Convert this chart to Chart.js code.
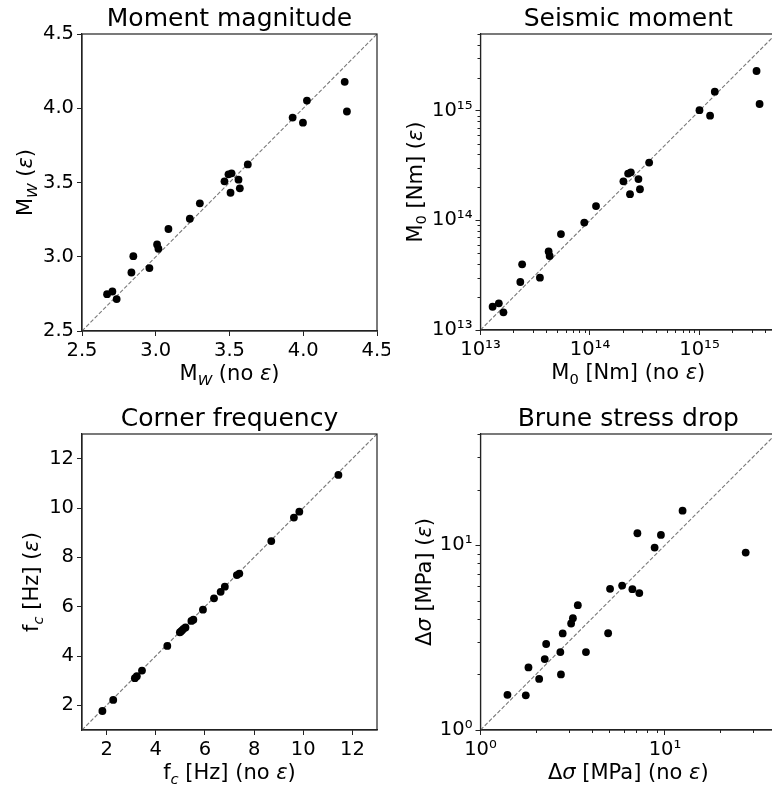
<!DOCTYPE html>
<html>
<head>
<meta charset="utf-8">
<script src="https://cdn.jsdelivr.net/npm/chart.js@4.4.0/dist/chart.umd.min.js"></script>
<style>
  html, body { margin: 0; padding: 0; background: #fff; overflow: hidden; width: 772px; height: 794px; }
  .panel { position: absolute; }
</style>
</head>
<body>
<div class="panel" style="left:0;top:0"><canvas id="c1" width="390" height="396"></canvas></div>
<div class="panel" style="left:390px;top:0"><canvas id="c2" width="390" height="396"></canvas></div>
<div class="panel" style="left:0;top:396px"><canvas id="c3" width="390" height="398"></canvas></div>
<div class="panel" style="left:390px;top:396px"><canvas id="c4" width="390" height="398"></canvas></div>
<script>
// Moment magnitude
const mwNoEps = [2.670, 2.706, 2.735, 2.835, 2.848, 2.957, 3.009, 3.018, 3.086, 3.231, 3.299, 3.466,
  3.493, 3.514, 3.561, 3.507, 3.570, 3.624, 3.928, 3.998, 4.025, 4.281, 4.296]
const mwEps = [2.748, 2.766, 2.715, 2.894, 3.004, 2.924, 3.083, 3.054, 3.187, 3.256, 3.360, 3.508,
  3.555, 3.562, 3.519, 3.431, 3.461, 3.622, 3.937, 3.903, 4.052, 4.178, 3.978]
const mwLimits = [2.5, 4.5]
const mwTicks = [2.5, 3.0, 3.5, 4.0, 4.5]

// Seismic moment [Nm]
const m0NoEps = [1.29e13, 1.47e13, 1.62e13, 2.31e13, 2.40e13, 3.49e13, 4.19e13, 4.28e13, 5.43e13, 8.87e13,
  1.135e14, 2.02e14, 2.23e14, 2.36e14, 2.77e14, 2.32e14, 2.86e14, 3.47e14, 1.00e15, 1.25e15, 1.38e15, 3.32e15, 3.54e15]
const m0Eps = [1.63e13, 1.75e13, 1.45e13, 2.74e13, 3.97e13, 3.00e13, 5.21e13, 4.73e13, 7.50e13, 9.53e13,
  1.35e14, 2.27e14, 2.67e14, 2.74e14, 2.38e14, 1.73e14, 1.92e14, 3.36e14, 1.01e15, 9.0e14, 1.49e15, 2.30e15, 1.15e15]
const m0Limits = [1e13, 5e15]
const m0Ticks = [1e13, 1e14, 1e15]

// Corner frequency [Hz]
const fcNoEps = [1.83, 2.27, 3.15, 3.23, 3.44, 4.47, 4.98, 5.02, 5.07, 5.13, 5.21, 5.45, 5.53, 5.92,
  6.37, 6.64, 6.81, 7.30, 7.40, 8.70, 9.62, 9.84, 11.43]
const fcEps = [1.77, 2.22, 3.10, 3.18, 3.41, 4.41, 4.96, 4.99, 5.04, 5.10, 5.16, 5.42, 5.47, 5.88,
  6.34, 6.60, 6.81, 7.28, 7.34, 8.66, 9.61, 9.85, 11.34]
const fcLimits = [1, 13]
const fcTicks = [2, 4, 6, 8, 10, 12]

// Brune stress drop [MPa]
const stressNoEps = [1.40, 1.76, 1.82, 2.08, 2.23, 2.27, 2.71, 2.73, 2.79, 3.10, 3.17, 3.37, 3.73, 4.92,
  5.04, 5.86, 6.66, 7.26, 7.09, 8.79, 9.51, 12.46, 27.4]
const stressEps = [1.55, 1.54, 2.18, 1.89, 2.42, 2.92, 2.64, 2.00, 3.33, 3.77, 4.03, 4.74, 2.64, 3.34,
  5.81, 6.05, 5.78, 5.51, 11.61, 9.71, 11.37, 15.39, 9.13]
const stressLimits = [1, 40]
const stressTicks = [1, 10]

Chart.defaults.font.family = '"DejaVu Sans"'
Chart.defaults.color = '#000'

const FONT = '"DejaVu Sans"'
const supDigits = { '0': '\u2070', '1': '\u00b9', '2': '\u00b2', '3': '\u00b3', '4': '\u2074',
  '5': '\u2075', '6': '\u2076', '7': '\u2077', '8': '\u2078', '9': '\u2079', '-': '\u207b' }

function powerLabel(v) {
  const e = Math.round(Math.log10(v))
  return '10' + String(e).split('').map((c) => supDigits[c]).join('')
}

// draw a label made of plain / italic / subscript pieces, centred on the origin
function drawRich(ctx, segs, size) {
  const parts = segs.map((s) => {
    const sz = s.sub ? size * 0.7 : size
    const font = (s.it ? 'italic ' : '') + sz + 'px ' + FONT
    ctx.font = font
    return { t: s.t, font, w: ctx.measureText(s.t).width, dy: s.sub ? size * 0.22 : 0 }
  })
  const total = parts.reduce((a, p) => a + p.w, 0)
  let x = -total / 2
  parts.forEach((p) => {
    ctx.font = p.font
    ctx.fillText(p.t, x, p.dy)
    x += p.w
  })
}

const framePlugin = {
  id: 'frame',
  afterDraw(chart) {
    const { ctx, chartArea: a } = chart
    ctx.save()
    ctx.strokeStyle = '#222'
    ctx.lineWidth = 1.2
    ctx.strokeRect(a.left, a.top, a.right - a.left, a.bottom - a.top)
    ctx.restore()
  },
}

// short unlabelled ticks at 2..9 x 10^n on log axes
const minorTicksPlugin = {
  id: 'minorTicks',
  afterDraw(chart) {
    const { ctx, chartArea: a } = chart
    ctx.save()
    ctx.strokeStyle = '#222'
    ctx.lineWidth = 1
    for (const id of ['x', 'y']) {
      const s = chart.scales[id]
      if (s.type !== 'logarithmic') continue
      for (let e = Math.floor(Math.log10(s.min)); e <= Math.ceil(Math.log10(s.max)); e++) {
        for (let m = 2; m <= 9; m++) {
          const v = m * Math.pow(10, e)
          if (v < s.min || v > s.max) continue
          const p = Math.round(s.getPixelForValue(v)) + 0.5
          ctx.beginPath()
          if (id === 'x') {
            ctx.moveTo(p, a.bottom)
            ctx.lineTo(p, a.bottom + 3)
          } else {
            ctx.moveTo(a.left, p)
            ctx.lineTo(a.left - 3, p)
          }
          ctx.stroke()
        }
      }
    }
    ctx.restore()
  },
}

const axisTextPlugin = {
  id: 'axisText',
  afterDraw(chart, args, opts) {
    const { ctx, chartArea: a } = chart
    const cx = (a.left + a.right) / 2
    ctx.save()
    ctx.fillStyle = '#000'
    ctx.textBaseline = 'alphabetic'
    ctx.textAlign = 'left'

    ctx.save()
    ctx.translate(cx, a.top - 8)
    drawRich(ctx, [{ t: opts.title }], 25)
    ctx.restore()

    ctx.save()
    ctx.translate(cx, a.bottom + 49)
    drawRich(ctx, opts.xLabel, 21)
    ctx.restore()

    ctx.save()
    ctx.translate(a.left - opts.yGap, (a.top + a.bottom) / 2)
    ctx.rotate(-Math.PI / 2)
    drawRich(ctx, opts.yLabel, 21)
    ctx.restore()

    ctx.restore()
  },
}

function axis(kind, limits, ticks, fmt, size) {
  const isX = kind === 'x'
  return {
    type: fmt === 'log' ? 'logarithmic' : 'linear',
    position: isX ? 'bottom' : 'left',
    min: limits[0],
    max: limits[1],
    afterBuildTicks: (s) => {
      s.ticks = ticks.map((v) => ({ value: v, major: true }))
    },
    afterFit: (s) => {
      if (isX) s.height = size
      else s.width = size
      s.paddingLeft = 0
      s.paddingRight = 0
      s.paddingTop = 0
      s.paddingBottom = 0
    },
    grid: { drawOnChartArea: false, drawTicks: true, tickLength: 5, tickColor: '#222', tickWidth: 1 },
    border: { display: true, color: '#222', width: 1.2 },
    ticks: {
      autoSkip: false,
      maxRotation: 0,
      padding: 3,
      color: '#000',
      font: { family: FONT, size: 19.5 },
      callback: (v) => (fmt === 'log' ? powerLabel(v) : fmt === 'int' ? String(v) : Number(v).toFixed(1)),
    },
  }
}

function makePanel(id, p) {
  const pts = p.xs.map((x, i) => ({ x, y: p.ys[i] }))
  new Chart(document.getElementById(id), {
    type: 'scatter',
    data: {
      datasets: [
        {
          data: pts,
          backgroundColor: '#000',
          borderWidth: 0,
          pointRadius: 3.9,
          order: 0,
        },
        {
          data: [{ x: p.limits[0], y: p.limits[0] }, { x: p.limits[1], y: p.limits[1] }],
          showLine: true,
          borderColor: '#7a7a7a',
          borderWidth: 1.1,
          borderDash: [4, 2],
          pointRadius: 0,
          order: 1,
        },
      ],
    },
    options: {
      responsive: false,
      animation: false,
      devicePixelRatio: 1,
      layout: { padding: { top: p.pad[0], right: p.pad[1], bottom: 0, left: 0 } },
      scales: {
        x: axis('x', p.limits, p.ticks, p.fmt, p.bottom),
        y: axis('y', p.limits, p.ticks, p.fmt, p.left),
      },
      plugins: {
        legend: { display: false },
        tooltip: { enabled: false },
        axisText: { title: p.title, xLabel: p.xLabel, yLabel: p.yLabel, yGap: p.yGap },
      },
    },
    plugins: [minorTicksPlugin, framePlugin, axisTextPlugin],
  })
}

const eps = { t: '\u03b5', it: true }

makePanel('c1', {
  xs: mwNoEps, ys: mwEps, limits: mwLimits, ticks: mwTicks, fmt: 'dec',
  pad: [34, 13], left: 82, bottom: 65, yGap: 50,
  title: 'Moment magnitude',
  xLabel: [{ t: 'M' }, { t: 'W', sub: true, it: true }, { t: ' (no ' }, eps, { t: ')' }],
  yLabel: [{ t: 'M' }, { t: 'W', sub: true, it: true }, { t: ' (' }, eps, { t: ')' }],
})

makePanel('c2', {
  xs: m0NoEps, ys: m0Eps, limits: m0Limits, ticks: m0Ticks, fmt: 'log',
  pad: [34, 3.5], left: 90.5, bottom: 66, yGap: 59,
  title: 'Seismic moment',
  xLabel: [{ t: 'M' }, { t: '0', sub: true }, { t: ' [Nm] (no ' }, eps, { t: ')' }],
  yLabel: [{ t: 'M' }, { t: '0', sub: true }, { t: ' [Nm] (' }, eps, { t: ')' }],
})

makePanel('c3', {
  xs: fcNoEps, ys: fcEps, limits: fcLimits, ticks: fcTicks, fmt: 'int',
  pad: [38, 13], left: 82, bottom: 64, yGap: 44,
  title: 'Corner frequency',
  xLabel: [{ t: 'f' }, { t: 'c', sub: true, it: true }, { t: ' [Hz] (no ' }, eps, { t: ')' }],
  yLabel: [{ t: 'f' }, { t: 'c', sub: true, it: true }, { t: ' [Hz] (' }, eps, { t: ')' }],
})

makePanel('c4', {
  xs: stressNoEps, ys: stressEps, limits: stressLimits, ticks: stressTicks, fmt: 'log',
  pad: [38, 3.5], left: 90.5, bottom: 64, yGap: 50,
  title: 'Brune stress drop',
  xLabel: [{ t: '\u0394' }, { t: '\u03c3', it: true }, { t: ' [MPa] (no ' }, eps, { t: ')' }],
  yLabel: [{ t: '\u0394' }, { t: '\u03c3', it: true }, { t: ' [MPa] (' }, eps, { t: ')' }],
})
</script>
</body>
</html>
